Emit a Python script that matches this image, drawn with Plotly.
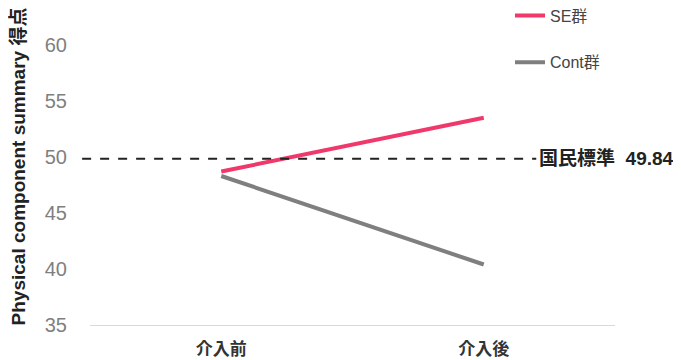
import plotly.graph_objects as go

categories = ["介入前", "介入後"]
se_values = [48.7, 53.5]
cont_values = [48.3, 40.4]
national_standard = 49.84
y_ticks = [35, 40, 45, 50, 55, 60]

FONT = "Liberation Sans, Arial, Noto Sans CJK JP, sans-serif"

fig = go.Figure()
fig.add_trace(go.Scatter(x=categories, y=se_values, mode="lines", name="SE群",
                         legendgroup="a",
                         line=dict(color="#F0386B", width=4)))
fig.add_trace(go.Scatter(x=categories, y=cont_values, mode="lines", name="Cont群",
                         legendgroup="b",
                         line=dict(color="#7F7F7F", width=4)))

fig.add_shape(type="line", xref="paper", yref="y",
              x0=-0.015, x1=0.85, y0=national_standard, y1=national_standard,
              line=dict(color="#222222", width=2, dash="dash"))
fig.add_annotation(xref="paper", yref="y", x=0.852, y=national_standard,
                   xanchor="left", yanchor="middle", showarrow=False,
                   text="<b>国民標準</b>  <b>" + f"{national_standard:.2f}" + "</b>",
                   font=dict(family=FONT, size=19, color="#222222"))

fig.update_layout(
    width=681, height=360,
    margin=dict(l=82, r=74, t=0, b=43, autoexpand=False),
    plot_bgcolor="white", paper_bgcolor="white",
    font=dict(family=FONT),
    showlegend=True,
    legend=dict(x=0.8, y=1.03, xanchor="left", yanchor="top",
                traceorder="grouped", tracegroupgap=23,
                font=dict(family=FONT, size=16, color="#444444"),
                bgcolor="rgba(0,0,0,0)"),
    xaxis=dict(showgrid=False, showline=True, linecolor="#D9D9D9", linewidth=1,
               ticks="", zeroline=False, range=[-0.5, 1.5],
               ticklabelstandoff=9,
               tickfont=dict(family=FONT, size=17, color="#333333"),
               tickvals=categories,
               ticktext=[f"<b>{c}</b>" for c in categories]),
    yaxis=dict(range=[35, 63.3], tickvals=y_ticks, showgrid=False, zeroline=False,
               showline=False, ticks="", ticklabelstandoff=22,
               tickfont=dict(family=FONT, size=20, color="#7F7F7F"),
               title=dict(text="<b>Physical component summary 得点</b>", standoff=20,
                          font=dict(family=FONT, size=19, color="#222222"))),
)

fig.write_html("out.html")
